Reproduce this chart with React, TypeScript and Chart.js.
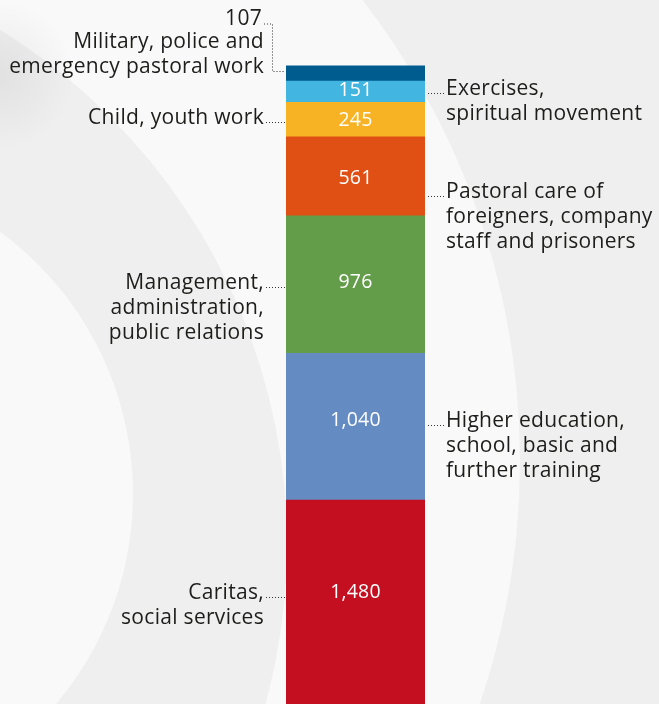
import React, { useEffect, useRef } from "react";
import { Chart, registerables } from "chart.js";
Chart.register(...registerables);

// ---- data (bottom to top of the stacked bar) ----
const categories = [
  "Caritas, social services",
  "Higher education, school, basic and further training",
  "Management, administration, public relations",
  "Pastoral care of foreigners, company staff and prisoners",
  "Child, youth work",
  "Exercises, spiritual movement",
  "Military, police and emergency pastoral work",
];
const values = [1480, 1040, 976, 561, 245, 151, 107];
const valueLabels = ["1,480", "1,040", "976", "561", "245", "151", "107"];
const labelLines = [
  ["Caritas,", "social services"],
  ["Higher education,", "school, basic and", "further training"],
  ["Management,", "administration,", "public relations"],
  ["Pastoral care of", "foreigners, company", "staff and prisoners"],
  ["Child, youth work"],
  ["Exercises,", "spiritual movement"],
  ["Military, police and", "emergency pastoral work"],
];
const labelSides = ["left", "right", "left", "right", "left", "right", "left"];
const colors = ["#c40f21", "#658bc3", "#649d4a", "#e04f14", "#f7b324", "#42b5e0", "#005c8f"];

// ---- layout (pixel tweaks, not data) ----
const leaderNudge = [-5, -2, 2, 20, 2, 1, -2];
const valueNudge = [-10, -6, -2, 2, 1, -1, 0];
const FONT = '"Open Sans", "Noto Sans", sans-serif';
const LINE_H = 25;
const TEXT = "#1d1d1b";

const backgroundPlugin = {
  id: "bgArcs",
  beforeDraw(chart: any) {
    const { ctx, width, height } = chart;
    ctx.save();
    ctx.fillStyle = "#efefef";
    ctx.fillRect(0, 0, width, height);
    const circle = (cx: number, cy: number, r: number, c: string) => {
      ctx.beginPath();
      ctx.arc(cx, cy, r, 0, Math.PI * 2);
      ctx.fillStyle = c;
      ctx.fill();
    };
    circle(-233, 461, 753, "#f9f9f9");
    circle(-317, 544, 604, "#efefef");
    circle(-192, 494, 325, "#f9f9f9");
    const g = ctx.createRadialGradient(0, 75, 0, 0, 75, 75);
    g.addColorStop(0, "rgba(0,0,0,0.06)");
    g.addColorStop(1, "rgba(0,0,0,0)");
    ctx.fillStyle = g;
    ctx.fillRect(0, 0, 90, 160);
    ctx.restore();
  },
};

const labelsPlugin = {
  id: "segLabels",
  afterDatasetsDraw(chart: any) {
    const { ctx, chartArea: area } = chart;
    ctx.save();
    const dotted = (pts: number[][]) => {
      ctx.save();
      ctx.setLineDash([1, 2]);
      ctx.lineWidth = 1;
      ctx.strokeStyle = "#333";
      ctx.beginPath();
      ctx.moveTo(pts[0][0], pts[0][1]);
      for (let k = 1; k < pts.length; k++) ctx.lineTo(pts[k][0], pts[k][1]);
      ctx.stroke();
      ctx.restore();
    };
    chart.data.datasets.forEach((_ds: any, i: number) => {
      const el: any = chart.getDatasetMeta(i).data[0];
      const top = Math.max(el.y, area.top);
      const bottom = Math.min(el.base, area.bottom);
      const left = el.x - el.width / 2;
      const right = el.x + el.width / 2;
      const mid = (top + bottom) / 2;
      const inside = bottom - top >= 18;
      if (inside) {
        ctx.font = `19.5px ${FONT}`;
        (ctx as any).letterSpacing = "0.2px";
        ctx.fillStyle = "#ffffff";
        ctx.textAlign = "center";
        ctx.textBaseline = "middle";
        ctx.fillText(valueLabels[i], el.x, mid + valueNudge[i]);
      }
      ctx.font = `21px ${FONT}`;
      (ctx as any).letterSpacing = "0.3px";
      const ly = Math.round(mid + leaderNudge[i]) + 0.5;
      const lines = labelLines[i];
      ctx.fillStyle = TEXT;
      ctx.textBaseline = "alphabetic";
      if (labelSides[i] === "left") {
        const tx = left - 22;
        ctx.textAlign = "right";
        if (inside) {
          lines.forEach((ln, k) => ctx.fillText(ln, tx, ly + 1 + k * LINE_H));
          dotted([[tx + 2, ly], [left - 1, ly]]);
        } else {
          const n = lines.length;
          lines.forEach((ln, k) => ctx.fillText(ln, tx, ly + 1 - (n - 1 - k) * LINE_H));
          const vy = ly + 1 - (n - 1) * LINE_H - 23;
          ctx.fillText(valueLabels[i], tx - 2, vy);
          const bx = left - 13.5;
          dotted([[tx, vy - 0.5], [bx, vy - 0.5], [bx, ly], [left - 1, ly]]);
        }
      } else {
        const tx = right + 21;
        ctx.textAlign = "left";
        lines.forEach((ln, k) => ctx.fillText(ln, tx, ly + 1 + k * LINE_H));
        dotted([[right + 3, ly], [tx - 2, ly]]);
      }
    });
    ctx.restore();
  },
};

export default function App() {
  const ref = useRef<HTMLCanvasElement | null>(null);
  useEffect(() => {
    if (!ref.current) return;
    const chart = new Chart(ref.current, {
      type: "bar",
      data: {
        labels: [""],
        datasets: values.map((v, i) => ({
          label: categories[i],
          data: [v],
          backgroundColor: colors[i],
          borderWidth: 0,
          barPercentage: 1,
          categoryPercentage: 1,
        })),
      },
      options: {
        animation: false,
        responsive: false,
        devicePixelRatio: 1,
        layout: { padding: { left: 286, right: 234, top: 0, bottom: 0 } },
        scales: {
          x: { stacked: true, display: false },
          y: { stacked: true, display: false, min: 32, max: 5028 },
        },
        plugins: { legend: { display: false }, tooltip: { enabled: false } },
      },
      plugins: [backgroundPlugin, labelsPlugin],
    });
    return () => chart.destroy();
  }, []);
  return (
    <div style={{ position: "absolute", left: 0, top: 0, width: 659, height: 704, overflow: "hidden" }}>
      <canvas ref={ref} width={659} height={704} style={{ display: "block" }} />
    </div>
  );
}
